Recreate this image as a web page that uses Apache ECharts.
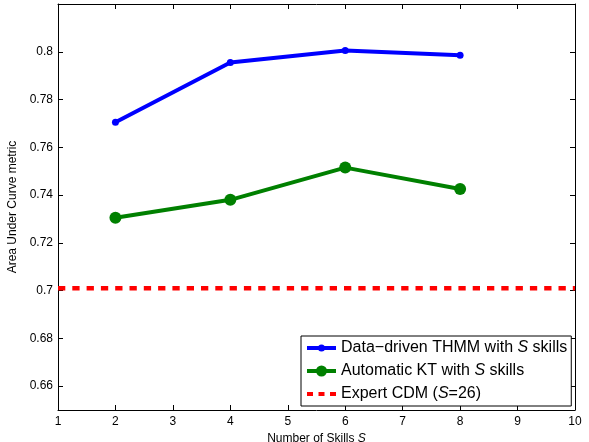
<!DOCTYPE html>
<html><head><meta charset="utf-8">
<script src="https://cdn.jsdelivr.net/npm/echarts@6/dist/echarts.min.js"></script>
<style>html,body{margin:0;padding:0;background:#fff}#c{width:589px;height:442px}</style>
</head><body><div id="c"></div>
<script>
const skills = [2, 4, 6, 8];
const thmm = [0.7705, 0.7955, 0.8005, 0.7985];
const kt = [0.7305, 0.738, 0.7515, 0.7425];
const expertValue = 0.701;
const xRange = [1, 10];
const yTicks = [0.66, 0.68, 0.7, 0.72, 0.74, 0.76, 0.78, 0.8];
const seriesNames = ['Data−driven THMM with S skills', 'Automatic KT with S skills', 'Expert CDM (S=26)'];

const font = 'Liberation Sans, Arial, Helvetica, sans-serif';
const chart = echarts.init(document.getElementById('c'));
const tick = {inside: true, length: 5, lineStyle: {color: '#000', width: 1}};
const iconBlue = 'path://M0 5H29V9H0Z M11 7A3.5 3.5 0 1 1 18 7A3.5 3.5 0 1 1 11 7Z';
const iconGreen = 'path://M0 5H29V9H0Z M9 7A5.5 5.5 0 1 1 20 7A5.5 5.5 0 1 1 9 7Z';
const iconRed = 'path://M0 5H6V9H0Z M11.5 5H17.5V9H11.5Z M23 5H29V9H23Z';
chart.setOption({
  animation: false,
  textStyle: {fontFamily: font},
  grid: {left: 58, top: 4, right: 14, bottom: 32, outerBoundsMode: 'none', containLabel: false},
  xAxis: [{
    type: 'value', min: 1, max: 10, interval: 1,
    axisLine: {show: true, lineStyle: {color: '#000', width: 1}},
    axisTick: tick, splitLine: {show: false},
    axisLabel: {color: '#000', fontSize: 12, margin: 6, fontFamily: font},
    name: '{n|Number of Skills }{i|S}', nameLocation: 'middle', nameGap: 22,
    nameTextStyle: {rich: {n: {fontSize: 12, color: '#000', fontFamily: font}, i: {fontSize: 12, color: '#000', fontStyle: 'italic', fontFamily: font}}}
  }, {
    type: 'value', min: 1, max: 10, interval: 1, position: 'top',
    axisLine: {show: true, onZero: false, lineStyle: {color: '#000', width: 1}},
    axisTick: tick, axisLabel: {show: false}, splitLine: {show: false}
  }],
  yAxis: [{
    type: 'value', min: 0.65, max: 0.82,
    axisLine: {show: true, lineStyle: {color: '#000', width: 1}},
    axisTick: Object.assign({customValues: yTicks}, tick), splitLine: {show: false},
    axisLabel: {customValues: yTicks, color: '#000', fontSize: 12, margin: 5, fontFamily: font,
      formatter: v => String(+v.toFixed(2))},
    name: 'Area Under Curve metric', nameLocation: 'middle', nameGap: 34,
    nameTextStyle: {fontSize: 12, color: '#000', fontFamily: font}
  }, {
    type: 'value', min: 0.65, max: 0.82, position: 'right',
    axisLine: {show: true, onZero: false, lineStyle: {color: '#000', width: 1}},
    axisTick: Object.assign({customValues: yTicks}, tick),
    axisLabel: {show: false}, splitLine: {show: false}
  }],
  legend: {
    orient: 'vertical', left: 301, top: 336,
    backgroundColor: '#fff', borderColor: '#000', borderWidth: 1,
    padding: [4, 4, 4, 6], itemGap: 7, itemWidth: 29, itemHeight: 14,
    data: [
      {name: seriesNames[0], icon: iconBlue},
      {name: seriesNames[1], icon: iconGreen},
      {name: seriesNames[2], icon: iconRed}
    ],
    formatter: name => {
      if (name === seriesNames[0]) return '{n|Data−driven THMM with }{i|S}{n| skills}';
      if (name === seriesNames[1]) return '{n|Automatic KT with }{i|S}{n| skills}';
      return '{n|Expert CDM (}{i|S}{n|=26)}';
    },
    textStyle: {rich: {
      n: {fontSize: 16, color: '#000', fontFamily: font},
      i: {fontSize: 16, color: '#000', fontStyle: 'italic', fontFamily: font}
    }}
  },
  series: [{
    name: seriesNames[0], type: 'line',
    data: skills.map((s, i) => [s, thmm[i]]),
    symbol: 'circle', symbolSize: 7,
    lineStyle: {color: '#0000ff', width: 4}, itemStyle: {color: '#0000ff'}
  }, {
    name: seriesNames[1], type: 'line',
    data: skills.map((s, i) => [s, kt[i]]),
    symbol: 'circle', symbolSize: 12,
    lineStyle: {color: '#008000', width: 4}, itemStyle: {color: '#008000'}
  }, {
    name: seriesNames[2], type: 'line',
    data: xRange.map(x => [x, expertValue]),
    symbol: 'none',
    lineStyle: {color: '#ff0000', width: 4.5, type: [7.3, 7]}, itemStyle: {color: '#ff0000'}
  }]
});
</script></body></html>
